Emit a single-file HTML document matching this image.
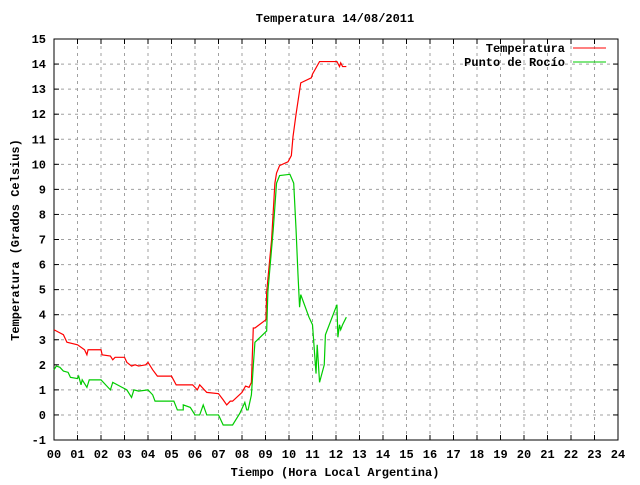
<!DOCTYPE html>
<html><head><meta charset="utf-8"><style>
body{margin:0;background:#fff}
svg text{font-family:"Liberation Mono",monospace;font-size:12px;font-weight:bold;fill:#000}
</style></head><body>
<svg id="c" width="640" height="480">
<g id="grid"></g>
<g id="axes"></g>
<g id="series"></g>
<text x="335" y="22" text-anchor="middle">Temperatura 14/08/2011</text>
<text x="335" y="476" text-anchor="middle">Tiempo (Hora Local Argentina)</text>
<text transform="translate(19,240) rotate(-90)" text-anchor="middle">Temperatura (Grados Celsius)</text>
<g>
<text x="565" y="52" text-anchor="end">Temperatura</text>
<line x1="573" y1="48" x2="606" y2="48" stroke="#f00"/>
<text x="565" y="66" text-anchor="end">Punto de Rocío</text>
<line x1="573" y1="62" x2="606" y2="62" stroke="#0c0"/>
</g>
</svg>
<script>
const xTicks=["00","01","02","03","04","05","06","07","08","09","10","11","12","13","14","15","16","17","18","19","20","21","22","23","24"];
const yTicks=[-1,0,1,2,3,4,5,6,7,8,9,10,11,12,13,14,15];
const tempHours=[0,0.2,0.4,0.55,1.0,1.3,1.4,1.45,2.0,2.05,2.4,2.5,2.6,3.0,3.1,3.3,3.45,3.6,3.9,4.0,4.2,4.4,5.0,5.2,5.9,6.1,6.2,6.5,7.0,7.2,7.35,7.5,7.6,8.0,8.15,8.3,8.4,8.48,8.55,9.02,9.05,9.26,9.4,9.47,9.6,9.96,10.1,10.17,10.3,10.5,10.95,11.0,11.3,12.04,12.15,12.2,12.28,12.44];
const tempValues=[3.4,3.3,3.2,2.9,2.8,2.6,2.4,2.6,2.6,2.4,2.35,2.2,2.3,2.3,2.1,1.95,2.0,1.95,2.0,2.1,1.8,1.55,1.55,1.2,1.2,1.0,1.2,0.9,0.85,0.6,0.4,0.55,0.55,0.9,1.15,1.1,1.3,3.47,3.47,3.8,4.9,7.0,9.25,9.65,9.95,10.1,10.35,11.1,12.0,13.25,13.45,13.6,14.1,14.1,13.9,14.05,13.9,13.9];
const dewHours=[0,0.1,0.25,0.4,0.6,0.7,1.0,1.05,1.15,1.2,1.4,1.5,2.0,2.2,2.4,2.5,2.9,3.1,3.3,3.4,3.6,4.0,4.2,4.3,5.1,5.25,5.5,5.5,5.8,6.0,6.2,6.35,6.5,7.0,7.2,7.6,7.91,8.12,8.2,8.26,8.4,8.48,8.55,9.05,9.1,9.33,9.47,9.6,10.04,10.2,10.3,10.38,10.45,10.5,10.85,11.0,11.15,11.2,11.3,11.5,11.55,12.04,12.08,12.15,12.2,12.28,12.44];
const dewValues=[1.8,1.95,1.9,1.75,1.7,1.5,1.45,1.55,1.2,1.4,1.1,1.4,1.4,1.2,1.0,1.3,1.1,1.0,0.7,1.0,0.95,1.0,0.8,0.55,0.55,0.2,0.2,0.4,0.3,0.0,0.0,0.4,0.0,0.0,-0.4,-0.4,0.07,0.5,0.2,0.2,0.8,1.95,2.9,3.35,4.9,7.4,9.25,9.55,9.6,9.25,7.4,5.65,4.3,4.8,3.9,3.6,1.65,2.8,1.3,2.0,3.2,4.4,3.1,3.6,3.4,3.6,3.9];
const NS="http://www.w3.org/2000/svg";
const L=54,R=618,T=39,B=440;
const xs=h=>L+h*(R-L)/24;
const ys=v=>B-(v+1)*(B-T)/16;
const grid=document.getElementById('grid'),axes=document.getElementById('axes'),ser=document.getElementById('series');
function mk(tag,at,parent){const e=document.createElementNS(NS,tag);for(const k in at)e.setAttribute(k,at[k]);parent.appendChild(e);return e;}
xTicks.forEach((t,i)=>{const x=xs(i);
 if(i>0&&i<24){const g=mk('line',{x1:x,y1:T,x2:x,y2:B,stroke:'#a0a0a0','stroke-dasharray':'3,4'},grid);
 
 }
 const a=mk('line',{x1:x,y1:B,x2:x,y2:B-5,stroke:'#000'},axes);
 
 
 const b=mk('line',{x1:x,y1:T,x2:x,y2:T+5,stroke:'#000'},axes);
 
 
 const tx=mk('text',{x:x,y:B+18,'text-anchor':'middle'},axes);tx.textContent=t;
 
 
});
yTicks.forEach(v=>{const y=ys(v);
 if(v>-1&&v<15){const g=mk('line',{x1:L,y1:y,x2:R,y2:y,stroke:'#a0a0a0','stroke-dasharray':'3,4'},grid);
 
 }
 const a=mk('line',{x1:L,y1:y,x2:L+5,y2:y,stroke:'#000'},axes);
 
 
 const b=mk('line',{x1:R,y1:y,x2:R-5,y2:y,stroke:'#000'},axes);
 
 
 const tx=mk('text',{x:L-8,y:y+4,'text-anchor':'end'},axes);tx.textContent=v;
 
 
});
const fr=mk('rect',{x:L,y:T,width:R-L,height:B-T,fill:'none',stroke:'#000'},axes);


function line(hs,vs,col,name){const p=mk('polyline',{points:hs.map((h,i)=>xs(h)+','+ys(vs[i])).join(' '),fill:'none',stroke:col,'stroke-width':1.2},ser);
 
 }
line(tempHours,tempValues,'#f00','temperatura-line');
line(dewHours,dewValues,'#0c0','punto-de-rocio-line');
</script>
</body></html>
